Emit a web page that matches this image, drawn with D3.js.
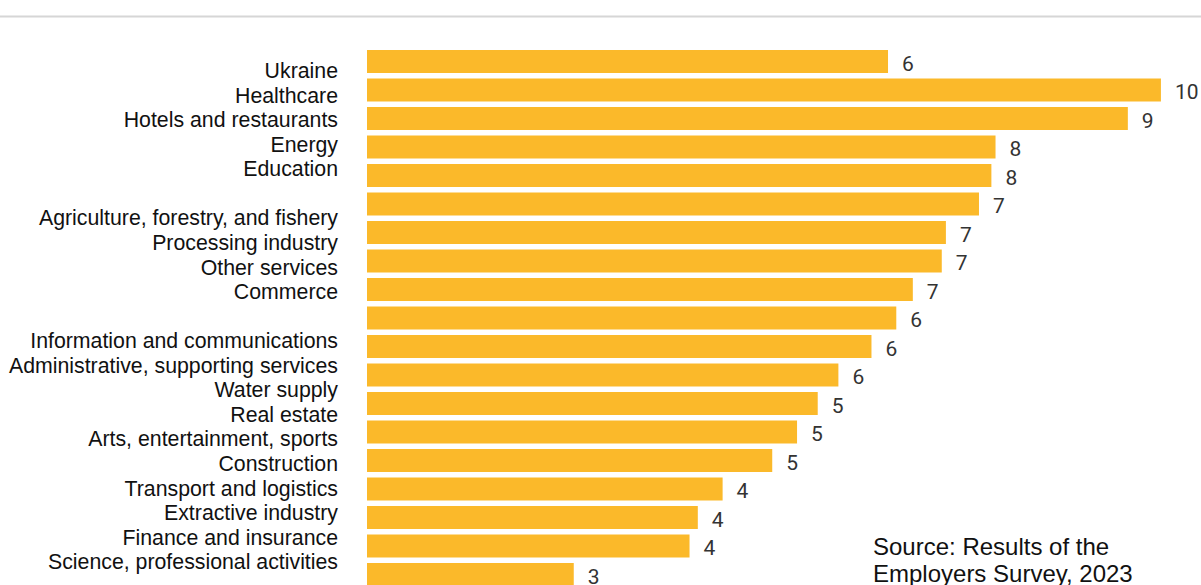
<!DOCTYPE html>
<html>
<head>
<meta charset="utf-8">
<script src="https://cdn.jsdelivr.net/npm/d3@7"></script>
<style>
  body { margin: 0; background: #fff; }
  svg { display: block; }
  .cat { font-family: "Liberation Sans", Arial, sans-serif; font-size: 21.3px; fill: #111; }
  .val { font-family: Roboto, "DejaVu Sans", sans-serif; font-size: 21px; fill: #333; }
  .src { font-family: "Liberation Sans", Arial, sans-serif; font-size: 24px; fill: #111; }
</style>
</head>
<body>
<div id="chart"></div>
<script>
// label column as printed (blank rows are gaps in the original text block)
var labelRows = [
  "Ukraine", "Healthcare", "Hotels and restaurants", "Energy", "Education", "",
  "Agriculture, forestry, and fishery", "Processing industry", "Other services", "Commerce", "",
  "Information and communications", "Administrative, supporting services", "Water supply",
  "Real estate", "Arts, entertainment, sports", "Construction", "Transport and logistics",
  "Extractive industry", "Finance and insurance", "Science, professional activities"
];
// bar values, top to bottom
var values = [6.3, 9.6, 9.2, 7.6, 7.55, 7.4, 7.0, 6.95, 6.6, 6.4, 6.1, 5.7, 5.45, 5.2, 4.9, 4.3, 4.0, 3.9, 2.5];
var sourceLines = ["Source: Results of the", "Employers Survey, 2023"];

var W = 1201, H = 585;
var svg = d3.select("#chart").append("svg").attr("width", W).attr("height", H);

// faint header rule
svg.append("line").attr("x1", 0).attr("x2", W).attr("y1", 16.5).attr("y2", 16.5)
   .attr("stroke", "#d6d6d6").attr("stroke-width", 2);

var x = d3.scaleLinear().domain([0, 10]).range([367, 367 + 827]);
var y = d3.scaleBand().domain(d3.range(values.length))
          .range([47.25, 47.25 + 19 * 28.5]).paddingInner(0.193).paddingOuter(0.0965);
var yLab = d3.scalePoint().domain(d3.range(labelRows.length)).range([70.7, 561.7]);

svg.selectAll("rect.bar").data(values).enter().append("rect")
   .attr("class", "bar")
   .attr("x", x(0))
   .attr("y", function(d, i){ return y(i); })
   .attr("width", function(d){ return x(d) - x(0); })
   .attr("height", y.bandwidth())
   .attr("fill", "#fbb92a");

svg.selectAll("text.val").data(values).enter().append("text")
   .attr("class", "val")
   .attr("x", function(d){ return x(d) + 14; })
   .attr("y", function(d, i){ return y(i) + y.bandwidth() / 2 + 2; })
   .attr("dy", "0.35em")
   .text(function(d){ return Math.round(d); });

svg.selectAll("text.cat").data(labelRows).enter().append("text")
   .attr("class", "cat")
   .attr("x", 338)
   .attr("y", function(d, i){ return yLab(i); })
   .attr("dy", "0.35em")
   .attr("text-anchor", "end")
   .text(function(d){ return d; });

svg.selectAll("text.src").data(sourceLines).enter().append("text")
   .attr("class", "src")
   .attr("x", 873)
   .attr("y", function(d, i){ return 555 + i * 27; })
   .text(function(d){ return d; });
</script>
</body>
</html>
